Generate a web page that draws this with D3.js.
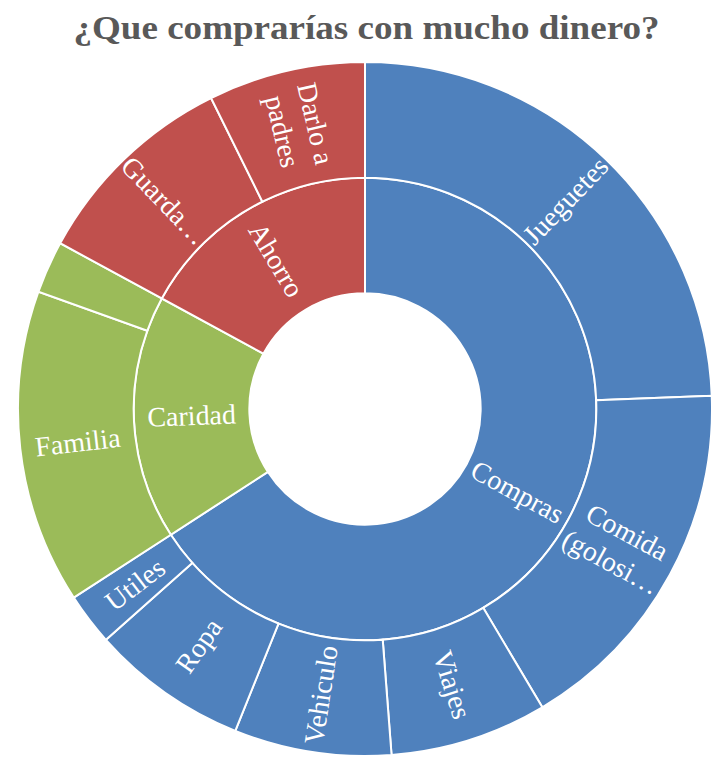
<!DOCTYPE html>
<html>
<head>
<meta charset="utf-8">
<script src="https://cdn.jsdelivr.net/npm/d3@7"></script>
<style>
  html, body { margin: 0; padding: 0; background: #ffffff; }
  svg { display: block; }
</style>
</head>
<body>
<svg id="chart" width="713" height="760"></svg>
<script>
// ---- data ----
const titleText = "¿Que comprarías con mucho dinero?";
const categories = ["Compras", "Caridad", "Ahorro"];
const categoryColors = ["#4F81BD", "#9BBB59", "#C0504D"];

const comprasItems  = ["Jueguetes", "Comida\n(golosi…", "Viajes", "Vehiculo", "Ropa", "Utiles"];
const comprasValues = [10, 7, 3, 3, 3, 1];

const caridadItems  = ["Familia", ""];
const caridadValues = [6, 1];

const ahorroItems   = ["Guarda…", "Darlo a\npadres"];
const ahorroValues  = [4, 3];

// ---- build hierarchy ----
const childLists = [
  [comprasItems, comprasValues],
  [caridadItems, caridadValues],
  [ahorroItems, ahorroValues]
];
const tree = {
  name: "root",
  children: categories.map((c, i) => ({
    name: c,
    idx: i,
    children: childLists[i][0].map((n, j) => ({ name: n, idx: i, value: childLists[i][1][j] }))
  }))
};

const W = 713, H = 760;
const cx = 365, cy = 409, R = 347;

const root = d3.hierarchy(tree).sum(d => d.value || 0);
d3.partition().size([2 * Math.PI, 3])(root);

const rScale = d3.scaleLinear().domain([0, 3]).range([0, R]);
const color = d3.scaleOrdinal().domain(d3.range(categories.length)).range(categoryColors);

const arc = d3.arc()
  .startAngle(d => d.x0)
  .endAngle(d => d.x1)
  .innerRadius(d => rScale(d.y0))
  .outerRadius(d => rScale(d.y1));

const svg = d3.select("#chart");

svg.append("text")
  .attr("x", 366.5)
  .attr("y", 39)
  .attr("text-anchor", "middle")
  .attr("font-family", "'Liberation Serif', 'Times New Roman', serif")
  .attr("font-weight", "bold")
  .attr("font-size", 33)
  .attr("textLength", 586)
  .attr("lengthAdjust", "spacingAndGlyphs")
  .attr("fill", "#595959")
  .text(titleText);

const g = svg.append("g").attr("transform", `translate(${cx},${cy})`);

const nodes = root.descendants().filter(d => d.depth > 0);

g.selectAll("path")
  .data(nodes)
  .join("path")
  .attr("d", arc)
  .attr("fill", d => color(d.data.idx))
  .attr("stroke", "#ffffff")
  .attr("stroke-width", 2);

const fontSize = 28, lineH = 34;
const labels = g.selectAll("text.lbl")
  .data(nodes.filter(d => d.data.name))
  .join("text")
  .attr("class", "lbl")
  .attr("font-family", "'Liberation Serif', 'Times New Roman', serif")
  .attr("font-size", fontSize)
  .attr("fill", "#ffffff")
  .attr("text-anchor", "middle")
  .attr("transform", d => {
    const a = (d.x0 + d.x1) / 2;
    const r = rScale((d.y0 + d.y1) / 2);
    const deg = a * 180 / Math.PI;
    const rot = deg < 180 ? deg - 90 : deg - 270;
    const x = Math.sin(a) * r, y = -Math.cos(a) * r;
    return `translate(${x},${y}) rotate(${rot})`;
  });

labels.each(function(d) {
  const lines = d.data.name.split("\n");
  const sel = d3.select(this);
  lines.forEach((ln, i) => {
    sel.append("tspan")
      .attr("x", 0)
      .attr("y", (i - (lines.length - 1) / 2) * lineH)
      .attr("dominant-baseline", "central")
      .text(ln);
  });
});
</script>
</body>
</html>
